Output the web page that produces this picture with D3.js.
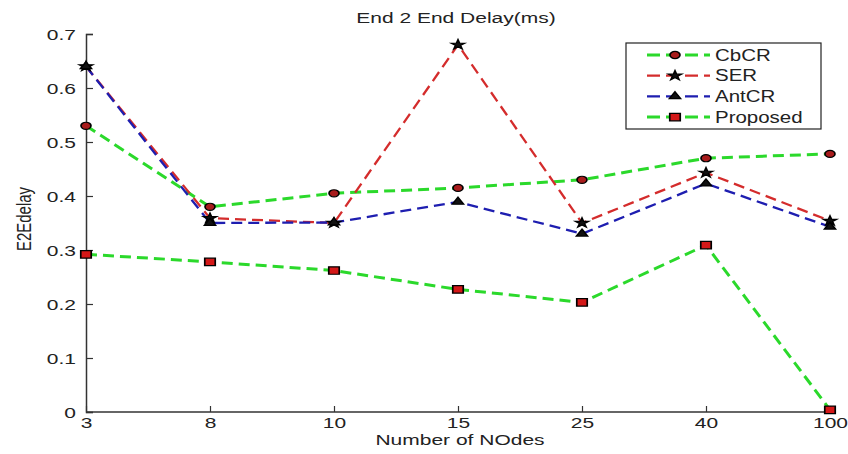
<!DOCTYPE html>
<html>
<head>
<meta charset="utf-8">
<script src="https://cdn.jsdelivr.net/npm/d3@7"></script>
<style>
  body { margin: 0; background: #fff; }
  text { font-family: "Liberation Sans", Arial, sans-serif; fill: #222; }
</style>
</head>
<body>
<div id="chart"></div>
<script>
// data
const nodes = ["3", "8", "10", "15", "25", "40", "100"];
const cbcr = [0.53, 0.38, 0.405, 0.415, 0.43, 0.47, 0.478];
const ser = [0.64, 0.359, 0.35, 0.68, 0.35, 0.443, 0.354];
const antcr = [0.64, 0.35, 0.351, 0.389, 0.33, 0.423, 0.343];
const proposed = [0.292, 0.278, 0.262, 0.227, 0.203, 0.309, 0.004];
const yTicks = [0, 0.1, 0.2, 0.3, 0.4, 0.5, 0.6, 0.7];

const svgWidth = 848;
const svgHeight = 454;

const margin = { top: 34, right: 18, bottom: 42, left: 86 };
const width = svgWidth - margin.left - margin.right;
const height = svgHeight - margin.top - margin.bottom;

// the original figure was stretched sideways, so text and markers are too
const SX = 1.4;

const series = [
  { name: "CbCR", values: cbcr, color: "#2bd92b", sym: d3.symbolCircle, size: 40, fill: "#a81c1c", sw: 3 },
  { name: "SER", values: ser, color: "#d42c2c", sym: d3.symbolStar, size: 28, fill: "#111", sw: 2.3 },
  { name: "AntCR", values: antcr, color: "#1e1eb0", sym: d3.symbolTriangle, size: 28, fill: "#111", sw: 2.3 },
  { name: "Proposed", values: proposed, color: "#2bd92b", sym: d3.symbolSquare, size: 56, fill: "#d41818", sw: 3 }
];

const svg = d3.select("#chart")
  .append("svg")
  .attr("width", svgWidth)
  .attr("height", svgHeight);

const chartGroup = svg.append("g")
  .attr("transform", `translate(${margin.left}, ${margin.top})`);

const x = d3.scalePoint()
  .domain(nodes)
  .range([0, 744])
  .padding(0);

const y = d3.scaleLinear()
  .domain([0, 0.7])
  .range([height, 0]);

// axes, matlab style: ticks pointing inwards
const xAxis = chartGroup.append("g")
  .attr("transform", `translate(0, ${height})`)
  .call(d3.axisBottom(x).tickSize(-6).tickPadding(0));
xAxis.select(".domain").attr("d", `M0,0H${width}`);

const yAxis = chartGroup.append("g")
  .call(d3.axisLeft(y).tickValues(yTicks).tickSize(-7).tickPadding(10)
    .tickFormat(d => d === 0 ? "0" : d3.format(".1f")(d)));

[xAxis, yAxis].forEach(g => {
  g.select(".domain").attr("stroke", "#333").attr("stroke-width", 1.5);
  g.selectAll(".tick line").attr("stroke", "#333").attr("stroke-width", 1.2);
  g.selectAll(".tick text").attr("font-size", 15).attr("fill", "#222");
});

// stretch tick labels around their anchor
xAxis.selectAll(".tick text")
  .attr("y", 0).attr("dy", 0)
  .attr("transform", `translate(0, 16) scale(${SX}, 1)`);
yAxis.selectAll(".tick text")
  .attr("x", 0).attr("dy", "0.35em")
  .attr("transform", `translate(-10, 0) scale(${SX}, 1)`);

// lines
const line = d3.line()
  .x((d, i) => x(nodes[i]))
  .y(d => y(d));

series.forEach(s => {
  chartGroup.append("path")
    .datum(s.values)
    .attr("d", line)
    .attr("fill", "none")
    .attr("stroke", s.color)
    .attr("stroke-width", s.sw)
    .attr("stroke-dasharray", "11,6");
});

series.forEach(s => {
  chartGroup.selectAll(null)
    .data(s.values)
    .enter()
    .append("path")
    .attr("d", d3.symbol(s.sym, s.size))
    .attr("transform", (d, i) => `translate(${x(nodes[i])}, ${y(d)}) scale(${SX}, 1)`)
    .attr("fill", s.fill)
    .attr("stroke", "#000")
    .attr("stroke-width", 1.2);
});

// title and axis labels
svg.append("text")
  .attr("text-anchor", "middle")
  .attr("font-size", 15)
  .attr("transform", `translate(456, 23) scale(${SX}, 1)`)
  .text("End 2 End Delay(ms)");

svg.append("text")
  .attr("text-anchor", "middle")
  .attr("font-size", 15)
  .attr("transform", `translate(460, 445) scale(${SX}, 1)`)
  .text("Number of NOdes");

svg.append("text")
  .attr("text-anchor", "middle")
  .attr("font-size", 15)
  .attr("transform", `translate(31, 219) scale(${SX}, 1) rotate(-90)`)
  .text("E2Edelay");

// legend
const legend = svg.append("g")
  .attr("transform", "translate(626, 43)");

legend.append("rect")
  .attr("width", 195)
  .attr("height", 86)
  .attr("fill", "#fff")
  .attr("stroke", "#222")
  .attr("stroke-width", 1.2);

series.forEach((s, i) => {
  const row = legend.append("g")
    .attr("transform", `translate(0, ${12 + i * 20.7})`);
  row.append("line")
    .attr("x1", 21).attr("x2", 84)
    .attr("stroke", s.color)
    .attr("stroke-width", s.sw)
    .attr("stroke-dasharray", "13,6");
  row.append("path")
    .attr("d", d3.symbol(s.sym, s.size))
    .attr("transform", `translate(49, 0) scale(${SX}, 1)`)
    .attr("fill", s.fill)
    .attr("stroke", "#000")
    .attr("stroke-width", 1.2);
  row.append("text")
    .attr("font-size", 16)
    .attr("dy", "0.36em")
    .attr("transform", `translate(89, 0) scale(1.28, 1)`)
    .text(s.name);
});
</script>
</body>
</html>
